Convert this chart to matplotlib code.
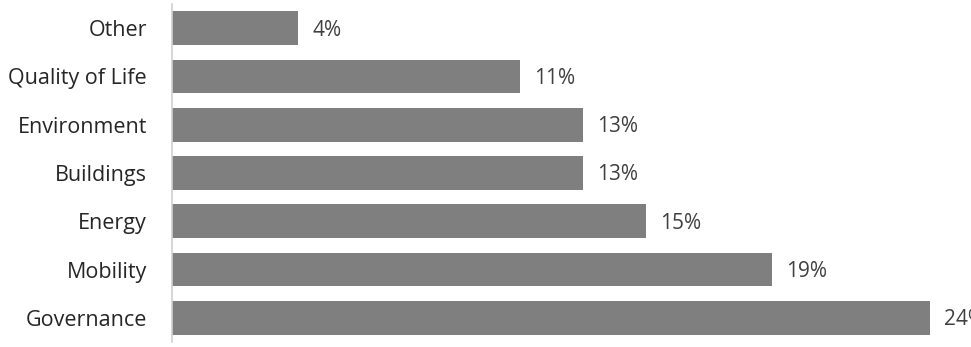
import matplotlib.pyplot as plt

categories = ['Governance', 'Mobility', 'Energy', 'Buildings', 'Environment', 'Quality of Life', 'Other']
values = [24, 19, 15, 13, 13, 11, 4]
labels = ['24%', '19%', '15%', '13%', '13%', '11%', '4%']

W, H = 971, 347
fig = plt.figure(figsize=(W / 100, H / 100), dpi=100)
ax = fig.add_axes([172 / W, (H - 342) / H, 1 - 172 / W, 338 / H])

ax.barh(categories, values, height=0.7, color='#7f7f7f')
ax.set_xlim(0, (W - 172) / 31.6)
ax.set_ylim(-0.5, len(categories) - 0.5)

# value labels; the last one runs off the right edge like in the original
for i, (v, t) in enumerate(zip(values, labels)):
    ax.annotate(t, (v, i), xytext=(14, -2), textcoords='offset pixels',
                va='center', ha='left', fontsize=15, color='#404040',
                family='Open Sans', annotation_clip=False)

for s in ['top', 'right', 'bottom']:
    ax.spines[s].set_visible(False)
ax.spines['left'].set_color('#d0d0d0')
ax.spines['left'].set_linewidth(1.2)
ax.set_xticks([])
ax.tick_params(axis='y', length=0, pad=18, labelsize=15.5, labelcolor='#262626')
for lbl in ax.get_yticklabels():
    lbl.set_family('Open Sans')

fig.savefig('out.png', dpi=100)
